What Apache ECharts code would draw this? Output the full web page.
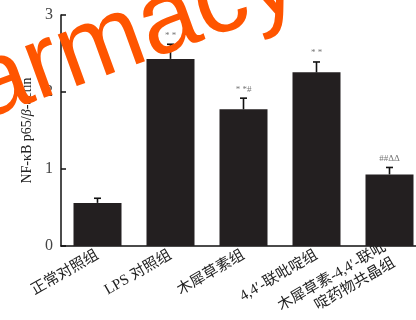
<!DOCTYPE html>
<html>
<head>
<meta charset="utf-8">
<script src="https://cdn.jsdelivr.net/npm/echarts@6/dist/echarts.min.js"></script>
<style>
  html, body { margin: 0; padding: 0; background: #fff; }
  #chart { width: 416px; height: 320px; }
</style>
</head>
<body>
<div id="chart"></div>
<script>
// Group names shown on the category axis
const categories = [
  '正常对照组',
  'LPS 对照组',
  '木犀草素组',
  '4,4′-联吡啶组',
  '木犀草素-4,4′-联吡\n啶药物共晶组'
];
// Mean NF-κB p65 / β-actin ratio per group
const means = [0.56, 2.43, 1.775, 2.255, 0.93];
// Upper end of each error bar (mean + SD)
const upper = [0.62, 2.62, 1.92, 2.39, 1.02];
// Significance marks above each error bar
const marks = ['', '* *', '* *#', '* *', '##ΔΔ'];
// Y-axis tick values
const yTicks = [0, 1, 2, 3];

const serif = "'Liberation Serif', 'Noto Sans CJK SC', serif";

const chart = echarts.init(document.getElementById('chart'), null, { renderer: 'canvas' });

const errData = means.map((m, i) => [i, m, upper[i], marks[i]]);

chart.setOption({
  animation: false,
  backgroundColor: '#ffffff',
  grid: {
    left: 61, top: 15, width: 365, height: 231,
    containLabel: false,
    outerBoundsMode: 'none'
  },
  xAxis: {
    type: 'category',
    data: categories,
    axisLine: { lineStyle: { color: '#111', width: 1.5 } },
    axisTick: { show: false },
    axisLabel: {
      rotate: 30,
      interval: 0,
      margin: 8,
      color: '#222',
      fontFamily: serif,
      fontSize: 15,
      lineHeight: 18
    }
  },
  yAxis: {
    type: 'value',
    min: yTicks[0],
    max: yTicks[yTicks.length - 1],
    interval: 1,
    name: '{n|NF-κB p65/}{i|β}{n|-actin}',
    nameLocation: 'middle',
    nameGap: 27,
    nameRotate: 90,
    nameTextStyle: {
      rich: {
        n: { fontFamily: serif, fontSize: 14, color: '#222' },
        i: { fontFamily: serif, fontSize: 14, color: '#222', fontStyle: 'italic' }
      }
    },
    splitLine: { show: false },
    axisLine: { show: true, lineStyle: { color: '#111', width: 1.5 } },
    axisTick: { show: true, inside: true, length: 5, lineStyle: { color: '#111', width: 1.5 } },
    axisLabel: { color: '#444', fontFamily: serif, fontSize: 16, margin: 8 }
  },
  series: [
    {
      type: 'bar',
      data: means,
      barWidth: 48,
      itemStyle: { color: '#231f20' },
      z: 2
    },
    {
      type: 'custom',
      data: errData,
      z: 3,
      renderItem: function (params, api) {
        const i = api.value(0);
        const top = api.coord([i, api.value(2)]);
        const base = api.coord([i, api.value(1)]);
        const cap = 3.5;
        const style = { stroke: '#111', lineWidth: 1.6 };
        return {
          type: 'group',
          children: [
            { type: 'line', shape: { x1: top[0], y1: base[1], x2: top[0], y2: top[1] }, style: style },
            { type: 'line', shape: { x1: top[0] - cap, y1: top[1], x2: top[0] + cap, y2: top[1] }, style: style },
            {
              type: 'text',
              style: {
                text: marks[params.dataIndex],
                x: top[0],
                y: top[1] - 9,
                textAlign: 'center',
                textVerticalAlign: 'middle',
                font: "9px 'Liberation Serif', serif",
                fill: '#777'
              }
            }
          ]
        };
      }
    }
  ],
  graphic: [
    {
      type: 'text',
      z: 100,
      x: -9,
      y: 142,
      rotation: 20 * Math.PI / 180,
      style: {
        text: 'armacy',
        font: "104px 'Liberation Sans', Arial, sans-serif",
        fill: '#ff5500',
        textAlign: 'left',
        textVerticalAlign: 'bottom'
      }
    }
  ]
});
</script>
</body>
</html>
